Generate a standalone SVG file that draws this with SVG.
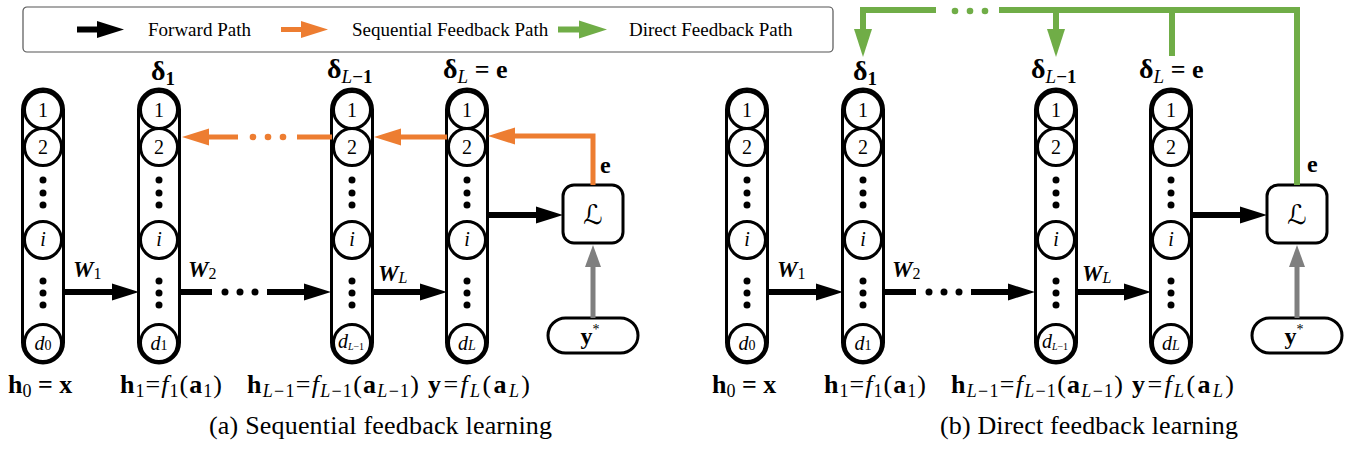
<svg xmlns="http://www.w3.org/2000/svg" width="1359" height="453" viewBox="0 0 1359 453">
<style>
.pill{fill:#fff;stroke:#000;stroke-width:3}
.cir{fill:#fff;stroke:#000;stroke-width:3}
.dot{fill:#000}
.num{font-family:'Liberation Serif','Times New Roman',serif;font-size:20px;text-anchor:middle;fill:#000}
.it{font-style:italic}
.fw{stroke:#000;stroke-width:6;fill:none}
.fo{stroke:#ED7D31;stroke-width:5;fill:none}
.fg{stroke:#70AD47;stroke-width:6;fill:none}
.gr{stroke:#7F7F7F;stroke-width:5;fill:none}
.lbl{font-family:'Liberation Serif','Times New Roman',serif;font-size:24px;fill:#000}
.bl{font-family:'Liberation Serif','Times New Roman',serif;font-size:26px;fill:#000}
.b{font-weight:bold}
.wl{font-family:'Liberation Serif','Times New Roman',serif;font-size:23px;font-weight:bold;font-style:italic;fill:#000}
.dl{font-family:'Liberation Serif','Times New Roman',serif;font-size:28px;font-weight:bold;fill:#000}
.leg{font-family:'Liberation Serif','Times New Roman',serif;font-size:19px;fill:#000}
.cap{font-family:'Liberation Serif','Times New Roman',serif;font-size:26px;fill:#000}
.box{fill:#fff;stroke:#000;stroke-width:3}
.scr{font-family:'DejaVu Sans',sans-serif;font-size:27px;text-anchor:middle;fill:#000}
</style>
<defs>
<marker id="hk" markerUnits="userSpaceOnUse" markerWidth="30" markerHeight="20" refX="1" refY="10" orient="auto"><path d="M0,1.5 L27,10 L0,18.5 z" fill="#000"/></marker>
<marker id="ho" markerUnits="userSpaceOnUse" markerWidth="30" markerHeight="20" refX="1" refY="10" orient="auto"><path d="M0,1.5 L27,10 L0,18.5 z" fill="#ED7D31"/></marker>
<marker id="hg" markerUnits="userSpaceOnUse" markerWidth="30" markerHeight="20" refX="1" refY="10" orient="auto"><path d="M0,1 L28,10 L0,19 z" fill="#70AD47"/></marker>
<marker id="hy" markerUnits="userSpaceOnUse" markerWidth="26" markerHeight="20" refX="1" refY="10" orient="auto"><path d="M0,2 L22,10 L0,18 z" fill="#7F7F7F"/></marker>
<g id="col">
<rect class="pill" x="-20.5" y="89" width="41" height="274" rx="20.5"/>
<circle class="cir" cx="0" cy="110" r="18.5"/>
<circle class="cir" cx="0" cy="147" r="18.5"/>
<circle class="cir" cx="0" cy="240" r="18.5"/>
<circle class="cir" cx="0" cy="343" r="18.5"/>
<circle class="dot" cx="0" cy="180" r="3.5"/>
<circle class="dot" cx="0" cy="193" r="3.5"/>
<circle class="dot" cx="0" cy="205" r="3.5"/>
<circle class="dot" cx="0" cy="281" r="3.5"/>
<circle class="dot" cx="0" cy="293" r="3.5"/>
<circle class="dot" cx="0" cy="305" r="3.5"/>
<text class="num" x="0" y="117">1</text>
<text class="num" x="0" y="154">2</text>
<text class="num it" x="0" y="246">i</text>
</g>
</defs>

<g id="legend">
<rect x="23" y="7" width="810" height="45" rx="4" fill="#fff" stroke="#555" stroke-width="1.2"/>
<line class="fw" x1="77" y1="29.5" x2="98" y2="29.5" marker-end="url(#hk)"/>
<text class="leg" x="148" y="36">Forward Path</text>
<line class="fo" x1="281" y1="29.5" x2="302" y2="29.5" stroke-width="6" marker-end="url(#ho)"/>
<text class="leg" x="352" y="36">Sequential Feedback Path</text>
<line class="fg" x1="558" y1="29.5" x2="580" y2="29.5" marker-end="url(#hg)"/>
<text class="leg" x="629" y="36">Direct Feedback Path</text>
</g>

<!-- Panel (a) -->
<g id="a-h0"><use href="#col" x="43"/><text class="num" x="43" y="350"><tspan class="it">d</tspan><tspan font-size="14">0</tspan></text></g>
<g id="a-h1"><use href="#col" x="159"/><text class="num" x="159" y="350"><tspan class="it">d</tspan><tspan font-size="14">1</tspan></text></g>
<g id="a-hL1"><use href="#col" x="352"/><text class="num" x="351" y="348" font-size="14"><tspan class="it">d</tspan><tspan font-size="10" dy="2"><tspan class="it">L</tspan>−1</tspan></text></g>
<g id="a-y"><use href="#col" x="467"/><text class="num" x="467" y="350"><tspan class="it">d</tspan><tspan font-size="14" class="it">L</tspan></text></g>
<g id="a-loss"><rect class="box" x="563" y="185" width="60" height="58" rx="11"/><text class="scr" x="593" y="224">ℒ</text></g>
<g id="a-target"><rect class="box" x="548" y="318" width="90" height="35" rx="17.5"/><text class="lbl b" x="590" y="344" text-anchor="middle">y<tspan font-size="14" font-weight="normal" dy="-10">*</tspan></text></g>

<g id="a-labels">
<text class="dl" x="151" y="80">δ<tspan font-size="19" dy="5">1</tspan></text>
<text class="dl" x="327" y="78">δ<tspan font-size="19" dy="5"><tspan class="it" font-weight="normal">L</tspan>−1</tspan></text>
<text class="dl" x="443" y="78">δ<tspan font-size="19" dy="5" class="it" font-weight="normal">L</tspan><tspan dy="-5" font-size="26"> = e</tspan></text>
<text class="wl" x="73" y="277">W<tspan font-size="16" font-style="normal" font-weight="normal" dy="2">1</tspan></text>
<text class="wl" x="188" y="277">W<tspan font-size="16" font-style="normal" font-weight="normal" dy="2">2</tspan></text>
<text class="wl" x="378" y="281">W<tspan font-size="16" font-weight="normal" dy="2">L</tspan></text>
<text class="lbl b" x="600" y="173" font-size="28">e</text>
<text class="bl" x="8" y="393"><tspan class="b">h</tspan><tspan font-size="18" dy="4">0</tspan><tspan dy="-4" class="b"> = x</tspan></text>
<text class="bl" x="120" y="393" textLength="102"><tspan class="b">h</tspan><tspan font-size="18" dy="4">1</tspan><tspan dy="-4">=</tspan><tspan class="it">f</tspan><tspan font-size="18" dy="4">1</tspan><tspan dy="-4">(</tspan><tspan class="b">a</tspan><tspan font-size="18" dy="4">1</tspan><tspan dy="-4">)</tspan></text>
<text class="bl" x="247" y="393" textLength="172"><tspan class="b">h</tspan><tspan font-size="18" dy="4"><tspan class="it">L</tspan>−1</tspan><tspan dy="-4">=</tspan><tspan class="it">f</tspan><tspan font-size="18" dy="4"><tspan class="it">L</tspan>−1</tspan><tspan dy="-4">(</tspan><tspan class="b">a</tspan><tspan font-size="18" dy="4"><tspan class="it">L</tspan>−1</tspan><tspan dy="-4">)</tspan></text>
<text class="bl" x="428" y="393" textLength="102"><tspan class="b">y</tspan>=<tspan class="it">f</tspan><tspan font-size="18" dy="4" class="it">L</tspan><tspan dy="-4">(</tspan><tspan class="b">a</tspan><tspan font-size="18" dy="4" class="it">L</tspan><tspan dy="-4">)</tspan></text>
<text class="cap" x="209" y="434" textLength="343">(a) Sequential feedback learning</text>
</g>

<!-- Panel (b) -->
<g id="b-h0"><use href="#col" x="747"/><text class="num" x="747" y="350"><tspan class="it">d</tspan><tspan font-size="14">0</tspan></text></g>
<g id="b-h1"><use href="#col" x="863"/><text class="num" x="863" y="350"><tspan class="it">d</tspan><tspan font-size="14">1</tspan></text></g>
<g id="b-hL1"><use href="#col" x="1056"/><text class="num" x="1055" y="348" font-size="14"><tspan class="it">d</tspan><tspan font-size="10" dy="2"><tspan class="it">L</tspan>−1</tspan></text></g>
<g id="b-y"><use href="#col" x="1171"/><text class="num" x="1171" y="350"><tspan class="it">d</tspan><tspan font-size="14" class="it">L</tspan></text></g>
<g id="b-loss"><rect class="box" x="1267" y="185" width="60" height="58" rx="11"/><text class="scr" x="1297" y="224">ℒ</text></g>
<g id="b-target"><rect class="box" x="1252" y="318" width="90" height="35" rx="17.5"/><text class="lbl b" x="1294" y="344" text-anchor="middle">y<tspan font-size="14" font-weight="normal" dy="-10">*</tspan></text></g>

<g id="b-labels">
<text class="dl" x="853" y="80">δ<tspan font-size="19" dy="5">1</tspan></text>
<text class="dl" x="1031" y="78">δ<tspan font-size="19" dy="5"><tspan class="it" font-weight="normal">L</tspan>−1</tspan></text>
<text class="dl" x="1139" y="78">δ<tspan font-size="19" dy="5" class="it" font-weight="normal">L</tspan><tspan dy="-5" font-size="26"> = e</tspan></text>
<text class="wl" x="777" y="277">W<tspan font-size="16" font-style="normal" font-weight="normal" dy="2">1</tspan></text>
<text class="wl" x="892" y="277">W<tspan font-size="16" font-style="normal" font-weight="normal" dy="2">2</tspan></text>
<text class="wl" x="1082" y="281">W<tspan font-size="16" font-weight="normal" dy="2">L</tspan></text>
<text class="lbl b" x="1307" y="172" font-size="28">e</text>
<text class="bl" x="712" y="393"><tspan class="b">h</tspan><tspan font-size="18" dy="4">0</tspan><tspan dy="-4" class="b"> = x</tspan></text>
<text class="bl" x="824" y="393" textLength="102"><tspan class="b">h</tspan><tspan font-size="18" dy="4">1</tspan><tspan dy="-4">=</tspan><tspan class="it">f</tspan><tspan font-size="18" dy="4">1</tspan><tspan dy="-4">(</tspan><tspan class="b">a</tspan><tspan font-size="18" dy="4">1</tspan><tspan dy="-4">)</tspan></text>
<text class="bl" x="951" y="393" textLength="172"><tspan class="b">h</tspan><tspan font-size="18" dy="4"><tspan class="it">L</tspan>−1</tspan><tspan dy="-4">=</tspan><tspan class="it">f</tspan><tspan font-size="18" dy="4"><tspan class="it">L</tspan>−1</tspan><tspan dy="-4">(</tspan><tspan class="b">a</tspan><tspan font-size="18" dy="4"><tspan class="it">L</tspan>−1</tspan><tspan dy="-4">)</tspan></text>
<text class="bl" x="1132" y="393" textLength="102"><tspan class="b">y</tspan>=<tspan class="it">f</tspan><tspan font-size="18" dy="4" class="it">L</tspan><tspan dy="-4">(</tspan><tspan class="b">a</tspan><tspan font-size="18" dy="4" class="it">L</tspan><tspan dy="-4">)</tspan></text>
<text class="cap" x="940" y="434" textLength="298">(b) Direct feedback learning</text>
</g>

<g id="connectors">
<line class="fw" x1="63" y1="292" x2="113" y2="292" marker-end="url(#hk)"/>
<line class="fw" x1="180" y1="292" x2="212" y2="292"/>
<circle class="dot" cx="225" cy="292" r="3.5"/><circle class="dot" cx="240" cy="292" r="3.5"/><circle class="dot" cx="255" cy="292" r="3.5"/>
<line class="fw" x1="267" y1="292" x2="305" y2="292" marker-end="url(#hk)"/>
<line class="fw" x1="372" y1="292" x2="421" y2="292" marker-end="url(#hk)"/>
<line class="fw" x1="487" y1="215" x2="537" y2="215" marker-end="url(#hk)"/>
<line class="gr" x1="593" y1="318" x2="593" y2="266" marker-end="url(#hy)"/>
<path class="fo" d="M593,185 V136 H514" marker-end="url(#ho)"/>
<line class="fo" x1="447" y1="137" x2="400" y2="137" marker-end="url(#ho)"/>
<line class="fo" x1="332" y1="137" x2="297" y2="137"/>
<circle cx="283" cy="137" r="3.3" fill="#ED7D31"/><circle cx="268" cy="137" r="3.3" fill="#ED7D31"/><circle cx="253" cy="137" r="3.3" fill="#ED7D31"/>
<line class="fo" x1="238" y1="137" x2="208" y2="137" marker-end="url(#ho)"/>
<line class="fw" x1="767" y1="292" x2="817" y2="292" marker-end="url(#hk)"/>
<line class="fw" x1="884" y1="292" x2="916" y2="292"/>
<circle class="dot" cx="929" cy="292" r="3.5"/><circle class="dot" cx="944" cy="292" r="3.5"/><circle class="dot" cx="959" cy="292" r="3.5"/>
<line class="fw" x1="971" y1="292" x2="1009" y2="292" marker-end="url(#hk)"/>
<line class="fw" x1="1076" y1="292" x2="1125" y2="292" marker-end="url(#hk)"/>
<line class="fw" x1="1191" y1="215" x2="1241" y2="215" marker-end="url(#hk)"/>
<line class="gr" x1="1297" y1="318" x2="1297" y2="266" marker-end="url(#hy)"/>
<path class="fg" d="M1297,185 V10 H999"/>
<circle cx="985" cy="11" r="3.3" fill="#70AD47"/><circle cx="970" cy="11" r="3.3" fill="#70AD47"/><circle cx="955" cy="11" r="3.3" fill="#70AD47"/>
<path class="fg" d="M936,10 H863 V30" marker-end="url(#hg)"/>
<line class="fg" x1="1056" y1="10" x2="1056" y2="30" marker-end="url(#hg)"/>
<line class="fg" x1="1172" y1="10" x2="1172" y2="56"/>
</g>
</svg>
